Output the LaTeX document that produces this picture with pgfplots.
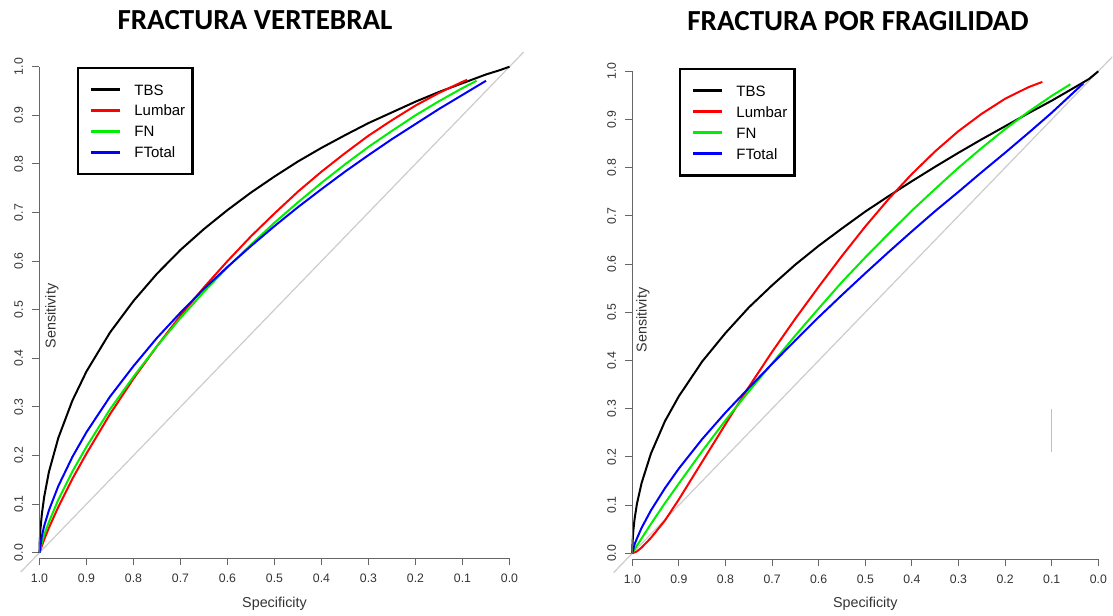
\documentclass[border=0pt]{standalone}
\usepackage{pgfplots}
\pgfplotsset{compat=1.18}
\usepackage{fontspec}
\setmainfont{Liberation Sans}
\newfontfamily\carlito{Carlito}
\definecolor{rred}{HTML}{FF0000}
\definecolor{rgreen}{HTML}{00EE00}
\definecolor{rblue}{HTML}{0000FF}
\definecolor{diag}{HTML}{CCCCCC}
\definecolor{axgray}{HTML}{666666}
\definecolor{txtgray}{HTML}{333333}
\pgfplotsset{
  rocaxis/.style={
    scale only axis, x dir=reverse,
    xmin=0, xmax=1, ymin=-0.012, ymax=1,
    clip=false,
    axis x line*=bottom, axis y line*=left,
    axis line style={draw=none},
    tick align=outside, major tick length=5.25pt,
    tick style={axgray, line width=0.75pt},
    xtick={0,0.1,0.2,0.3,0.4,0.5,0.6,0.7,0.8,0.9,1},
    ytick={0,0.1,0.2,0.3,0.4,0.5,0.6,0.7,0.8,0.9,1},
    /pgf/number format/fixed, /pgf/number format/fixed zerofill,
    /pgf/number format/precision=1, /pgf/number format/assume math mode=true,
    ticklabel style={font=\fontsize{9.2}{10}\selectfont, text=txtgray},
    yticklabel style={rotate=90, anchor=south},
    xticklabel shift=3pt, yticklabel shift=3.5pt,
    label style={font=\fontsize{10.75}{12}\selectfont, text=txtgray},
    xlabel={Specificity}, ylabel={Sensitivity},
    legend cell align=left,
    legend image code/.code={\path (0pt,0pt); \draw[##1, line width=2.25pt] (3.5pt,0pt) -- (25.5pt,0pt);},
  },
  lgd/.style={legend style={draw=black, line width=1.9pt, fill=white,
    inner xsep=5.5pt, inner ysep=12.3pt, row sep=7.7pt,
    font=\fontsize{11.25}{13}\selectfont,
    nodes={inner sep=0pt, text height=8pt, text depth=0pt},
    /tikz/every odd column/.append style={column sep=9.5pt}}},
}
\begin{document}
\begin{tikzpicture}
\useasboundingbox (0,0) rectangle (834.75pt,462pt);
\node[inner sep=0pt, font=\carlito\bfseries\fontsize{21.8}{24}\selectfont] at (191.25pt,447pt) {FRACTURA VERTEBRAL};
\node[inner sep=0pt, font=\carlito\bfseries\fontsize{21.8}{24}\selectfont] at (643.5pt,446.25pt) {FRACTURA POR FRAGILIDAD};

\begin{axis}[rocaxis, lgd, at={(29.625pt,43.125pt)}, anchor=south west,
  width=352.5pt, height=368.85pt,
  legend style={at={(0.079,1.0)}, anchor=north west},
  xlabel style={at={(axis description cs:0.5,-0.093)}, anchor=center},
  ylabel style={at={(axis description cs:0.0266,0.493)}, anchor=center, rotate=0}]
\addplot[diag, line width=0.9pt, forget plot] coordinates {(1.04,-0.04) (-0.03,1.03)};
\addplot[black, line width=1.5pt] coordinates {
(1.0,0) (0.9995,0.022) (0.998,0.048) (0.995,0.079) (0.99,0.115) (0.98,0.166) (0.96,0.236) (0.93,0.313) (0.90,0.373) (0.85,0.453) (0.80,0.518) (0.75,0.574) (0.70,0.623) (0.65,0.666) (0.60,0.705) (0.55,0.741) (0.50,0.774) (0.45,0.805) (0.40,0.833) (0.35,0.859) (0.30,0.884) (0.25,0.906) (0.20,0.928) (0.15,0.948) (0.10,0.966) (0.05,0.984) (0.02,0.993) (0.0,1.0)};
\addlegendentry{TBS}
\addplot[rred, line width=1.5pt] coordinates {
(1.0,0) (0.995,0.014) (0.99,0.027) (0.98,0.051) (0.96,0.094) (0.93,0.152) (0.90,0.204) (0.85,0.285) (0.80,0.358) (0.75,0.425) (0.70,0.488) (0.65,0.546) (0.60,0.600) (0.55,0.651) (0.50,0.698) (0.45,0.743) (0.40,0.784) (0.35,0.822) (0.30,0.858) (0.25,0.890) (0.20,0.920) (0.15,0.946) (0.10,0.969) (0.09,0.973)};
\addlegendentry{Lumbar}
\addplot[rgreen, line width=1.5pt] coordinates {
(1.0,0) (0.995,0.021) (0.99,0.037) (0.98,0.063) (0.96,0.109) (0.93,0.167) (0.90,0.218) (0.85,0.295) (0.80,0.362) (0.75,0.425) (0.70,0.483) (0.65,0.537) (0.60,0.587) (0.55,0.634) (0.50,0.679) (0.45,0.721) (0.40,0.761) (0.35,0.799) (0.30,0.835) (0.25,0.868) (0.20,0.900) (0.15,0.929) (0.10,0.956) (0.07,0.971)};
\addlegendentry{FN}
\addplot[rblue, line width=1.5pt] coordinates {
(1.0,0) (0.995,0.034) (0.99,0.055) (0.98,0.087) (0.96,0.137) (0.93,0.197) (0.90,0.248) (0.85,0.321) (0.80,0.384) (0.75,0.442) (0.70,0.494) (0.65,0.543) (0.60,0.588) (0.55,0.631) (0.50,0.672) (0.45,0.711) (0.40,0.748) (0.35,0.784) (0.30,0.818) (0.25,0.851) (0.20,0.882) (0.15,0.913) (0.10,0.942) (0.05,0.971)};
\addlegendentry{FTotal}
\draw[axgray, line width=0.75pt] (axis cs:1,0) -- (axis cs:1,1);
\draw[axgray, line width=0.75pt] (axis cs:1,-0.012) -- (axis cs:0,-0.012);
\end{axis}

\begin{axis}[rocaxis, lgd, at={(474.225pt,42.675pt)}, anchor=south west,
  width=349.5pt, height=365.85pt,
  legend style={at={(0.0996,1.007)}, anchor=north west},
  xlabel style={at={(axis description cs:0.5,-0.092)}, anchor=center},
  ylabel style={at={(axis description cs:0.023,0.49)}, anchor=center, rotate=0}]
\addplot[diag, line width=0.9pt, forget plot] coordinates {(1.04,-0.04) (-0.03,1.03)};
\addplot[black!25, line width=1.1pt, forget plot] coordinates {(0.1,0.21) (0.1,0.30)};
\addplot[black, line width=1.5pt] coordinates {
(1.0,0) (0.9995,0.022) (0.998,0.045) (0.995,0.072) (0.99,0.103) (0.98,0.146) (0.96,0.207) (0.93,0.274) (0.90,0.326) (0.85,0.398) (0.80,0.457) (0.75,0.510) (0.70,0.556) (0.65,0.599) (0.60,0.638) (0.55,0.674) (0.50,0.709) (0.45,0.741) (0.40,0.772) (0.35,0.802) (0.30,0.831) (0.25,0.859) (0.20,0.886) (0.15,0.913) (0.10,0.939) (0.05,0.967) (0.02,0.984) (0.0,1.0)};
\addlegendentry{TBS}
\addplot[rred, line width=1.5pt] coordinates {
(1.0,0) (0.99,0.004) (0.98,0.012) (0.96,0.032) (0.93,0.068) (0.90,0.112) (0.85,0.190) (0.80,0.268) (0.75,0.345) (0.70,0.418) (0.65,0.487) (0.60,0.553) (0.55,0.617) (0.50,0.678) (0.45,0.735) (0.40,0.787) (0.35,0.834) (0.30,0.876) (0.25,0.912) (0.20,0.943) (0.15,0.967) (0.12,0.978)};
\addlegendentry{Lumbar}
\addplot[rgreen, line width=1.5pt] coordinates {
(1.0,0) (0.995,0.008) (0.99,0.016) (0.98,0.031) (0.96,0.061) (0.93,0.104) (0.90,0.145) (0.85,0.212) (0.80,0.276) (0.75,0.336) (0.70,0.394) (0.65,0.452) (0.60,0.508) (0.55,0.563) (0.50,0.614) (0.45,0.663) (0.40,0.711) (0.35,0.756) (0.30,0.800) (0.25,0.841) (0.20,0.880) (0.15,0.916) (0.10,0.949) (0.06,0.973)};
\addlegendentry{FN}
\addplot[rblue, line width=1.5pt] coordinates {
(1.0,0) (0.995,0.019) (0.99,0.031) (0.98,0.053) (0.96,0.089) (0.93,0.135) (0.90,0.176) (0.85,0.237) (0.80,0.292) (0.75,0.343) (0.70,0.393) (0.65,0.442) (0.60,0.490) (0.55,0.536) (0.50,0.581) (0.45,0.625) (0.40,0.668) (0.35,0.710) (0.30,0.750) (0.25,0.791) (0.20,0.831) (0.15,0.872) (0.10,0.914) (0.032,0.975)};
\addlegendentry{FTotal}
\draw[axgray, line width=0.75pt] (axis cs:1,0) -- (axis cs:1,1);
\draw[axgray, line width=0.75pt] (axis cs:1,-0.012) -- (axis cs:0,-0.012);
\end{axis}
\end{tikzpicture}
\end{document}
